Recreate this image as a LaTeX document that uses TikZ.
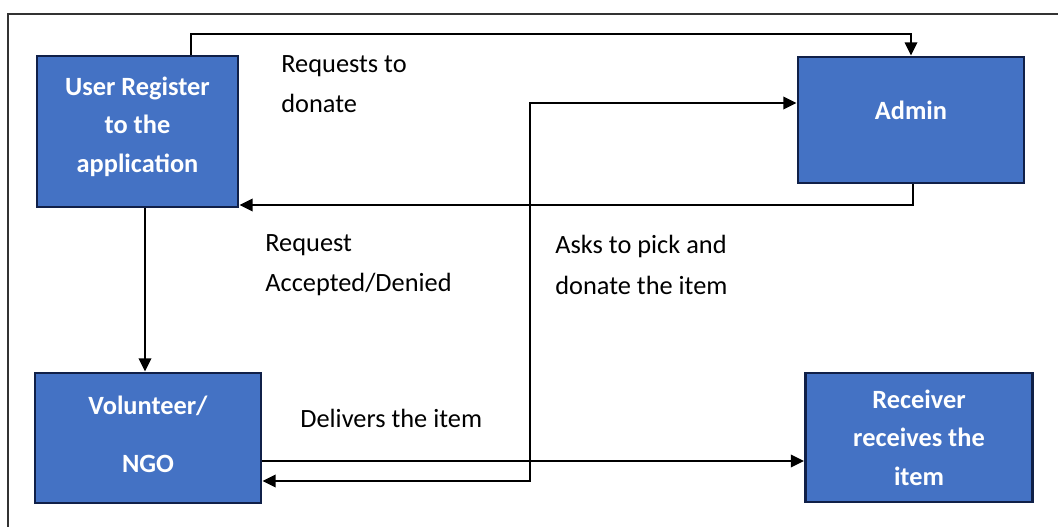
\documentclass[tikz,border=0pt]{standalone}
\usepackage{fontspec}
\setmainfont{Carlito}
\usepackage{tikz}
\usetikzlibrary{arrows.meta, positioning}
\definecolor{boxblue}{RGB}{68,114,196}
\definecolor{boxline}{RGB}{16,32,72}

\begin{document}
\begin{tikzpicture}[x=0.02cm, y=-0.02cm,
      box/.style={rectangle, draw=boxline, fill=boxblue, line width=1.6pt,
                  text=white, font=\fontsize{15}{22}\selectfont\bfseries, align=center},
      lbl/.style={font=\fontsize{15}{23}\selectfont, align=left, inner sep=0pt},
      arr/.style={-{Triangle[length=7.5pt,width=7pt]}, line width=1.4pt},
      dblarr/.style={{Triangle[length=7.5pt,width=7pt]}-{Triangle[length=7.5pt,width=7pt]}, line width=1.4pt}
    ]
      \useasboundingbox (0,0) rectangle (1058,527);
      \draw[line width=0.9pt, black!80] (8,14) rectangle (1075,545);

      % boxes
      \node[box, minimum width=4.02cm, minimum height=3.02cm] (user) at (137.5,131.5) {User Register\\to the\\application\\[-14pt]};
      \node[box, minimum width=4.52cm, minimum height=2.52cm] (admin) at (911,120) {\raisebox{5.5pt}[\height][\depth]{Admin}};
      \node[box, minimum width=4.52cm, minimum height=2.6cm] (vol) at (148,438) {\raisebox{2pt}[\height][\depth]{Volunteer/}\\[11pt]\raisebox{2pt}[\height][\depth]{NGO}};
      \node[box, minimum width=4.54cm, minimum height=2.58cm] (recv) at (919,437.5) {Receiver\\receives the\\item};

      % bend points
      \coordinate (top) at (191,34);
      \coordinate (back) at (913,205);
      \coordinate (down) at (145,0);
      \coordinate (del) at (0,461);
      \coordinate (askb) at (530,481);
      \coordinate (askt) at (530,103);

      \draw[arr] (user.north -| top) -- (top) -| (admin.north);
      \draw[arr] (admin.south -| back) -- (back) -- (user.east |- back);
      \draw[arr] (user.south -| down) -- (vol.north -| down);
      \draw[arr] (vol.east |- del) -- (recv.west |- del);
      \draw[dblarr] (vol.east |- askb) -- (askb) -- (askt) -- (admin.west |- askt);

      % labels
      \node[lbl, anchor=west] (lreq) at (281,84) {Requests to\\donate};
      \node[lbl, anchor=west] (lacc) at (265,265) {Request\\Accepted/Denied};
      \node[lbl, anchor=west] (lask) at (555,265) {Asks to pick and\\donate the item};
      \node[lbl, anchor=west] (ldel) at (300,418) {Delivers the item};
    \end{tikzpicture}
\end{document}
